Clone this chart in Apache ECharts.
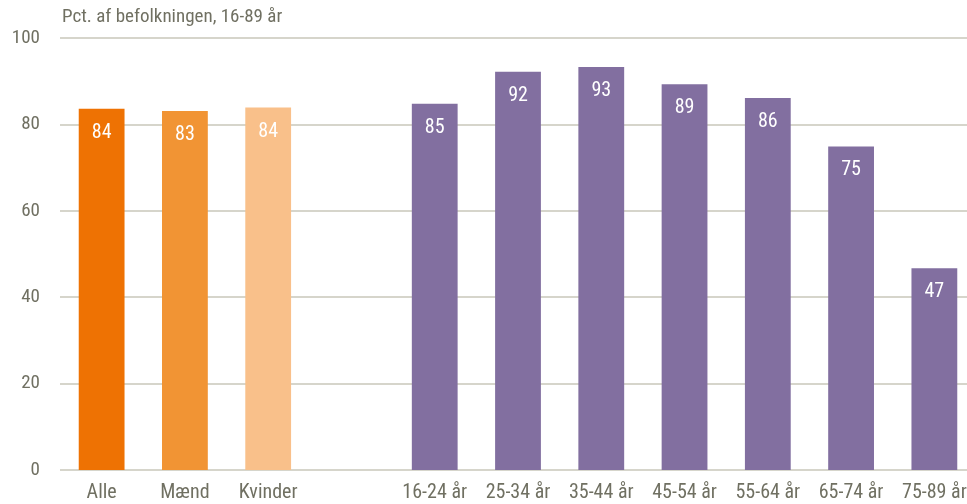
<!DOCTYPE html>
<html><head><meta charset="utf-8">
<script src="https://cdn.jsdelivr.net/npm/echarts@6/dist/echarts.min.js"></script>
<style>html,body{margin:0;padding:0;background:#fff}#c{width:967px;height:504px}</style>
</head><body><div id="c"></div>
<script>
const categories = ['Alle','Mænd','Kvinder','','16-24 år','25-34 år','35-44 år','45-54 år','55-64 år','65-74 år','75-89 år'];
const values = [83.6, 83.1, 83.9, null, 84.8, 92.2, 93.3, 89.3, 86.1, 74.9, 46.7];
const colors = ['#EE7203','#F19434','#F9C08A',null,'#826FA0','#826FA0','#826FA0','#826FA0','#826FA0','#826FA0','#826FA0'];
const yTicks = [0, 20, 40, 60, 80, 100];
const unitLabel = 'Pct. af befolkningen, 16-89 år';
const font = "'Liberation Sans Narrow', 'Arial Narrow', 'Roboto Condensed', 'Liberation Sans', sans-serif";
const txt = '#707062';
const chart = echarts.init(document.getElementById('c'));
chart.setOption({
  animation: false,
  graphic: [{type:'text', left: 62, top: 8, style:{text: unitLabel, font: '19px ' + font, fill: txt}}],
  grid: {left: 60, width: 916, top: 38, bottom: 34, containLabel: false, outerBoundsMode: 'none'},
  xAxis: {type:'category', data: categories,
    axisLine:{show:false}, axisTick:{show:false},
    axisLabel:{color: txt, fontFamily: font, fontSize: 20, margin: 13, interval: 0}},
  yAxis: {type:'value', min: yTicks[0], max: yTicks[yTicks.length-1], interval: 20,
    axisLine:{show:false}, axisTick:{show:false},
    axisLabel:{color: txt, fontFamily: font, fontSize: 19, margin: 20},
    splitLine:{lineStyle:{color:'#C9C7BA', width: 1.5}}},
  series: [{type:'bar', barWidth: '55%',
    data: values.map((v,i)=> v==null ? '-' : {value: v, itemStyle:{color: colors[i]}}),
    label:{show:true, position:'insideTop', distance: 14, color:'#fff', fontFamily: font, fontSize: 20,
      formatter: p => Math.round(p.value)}
  }]
});
</script></body></html>
